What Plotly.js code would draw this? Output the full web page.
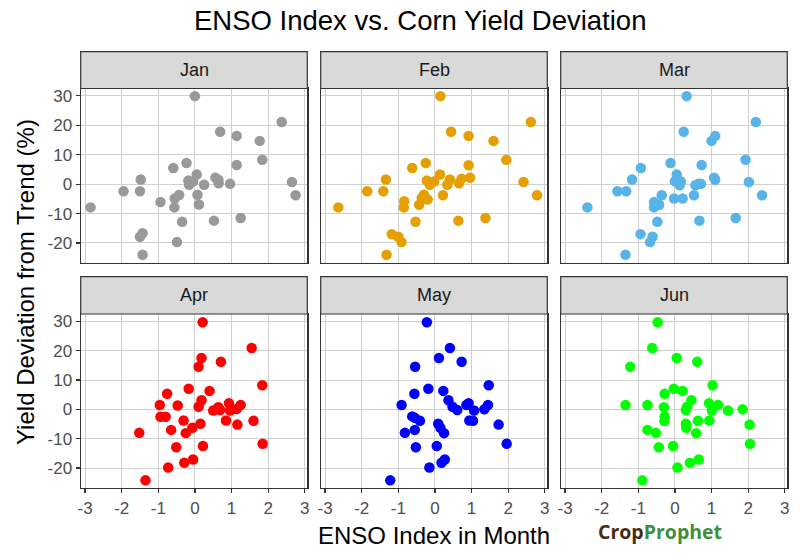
<!DOCTYPE html>
<html>
<head>
<meta charset="utf-8">
<script src="https://cdn.plot.ly/plotly-3.0.1.min.js"></script>
<style>html,body{margin:0;padding:0;background:#fff;}#chart{width:800px;height:560px;}</style>
</head>
<body>
<div id="chart"></div>
<script>
// ---- data ----
const months = ["Jan", "Feb", "Mar", "Apr", "May", "Jun"];
const monthColors = ["#999999", "#E69F00", "#56B4E9", "#FF0000", "#0000FF", "#00FF00"];

const janX = [0.00, 2.37, 0.69, 1.14, 1.77, 1.84, 1.14, -0.59, -0.23, 0.05, -0.18, -0.16, -0.05, 0.25, 0.56, 0.64, 0.65, 0.96, 2.65, 2.75, -1.48, -1.95, -1.50, -2.85, -0.94, -0.56, -0.55, -0.43, 0.07, 0.11, -0.35, 0.52, 1.25, -1.43, -1.50, -0.49, -1.43];
const janY = [29.9, 21.1, 17.8, 16.4, 14.7, 8.3, 6.5, 5.5, 7.2, 3.3, 1.2, -0.2, 0.9, -0.2, 2.2, 1.5, 0.3, 0.1, 0.7, -3.8, 1.6, -2.4, -2.4, -7.9, -6.1, -7.9, -4.9, -3.7, -3.6, -6.9, -12.8, -12.4, -11.5, -16.7, -17.9, -19.7, -24.0];

const febX = [0.15, 2.62, 0.44, 0.92, 1.60, 1.95, 0.92, -0.62, -0.25, 0.14, -1.34, -1.85, -1.41, -2.64, -0.84, -0.85, -0.30, -0.36, -0.20, -0.43, 0.22, -0.22, -0.14, -0.02, 0.34, 0.41, 0.66, 0.73, 0.96, 2.42, 2.79, -0.53, 0.64, 1.38, -1.18, -1.00, -0.91, -1.32];
const febY = [29.9, 21.1, 17.8, 16.4, 14.7, 8.3, 6.4, 5.5, 7.2, 3.3, 1.6, -2.4, -2.4, -7.9, -5.8, -7.9, -3.6, -4.7, -5.2, -7.0, -3.8, 1.2, -0.2, 0.9, -0.2, 1.6, 0.3, 1.8, 2.2, 0.7, -3.8, -12.8, -12.4, -11.5, -17.0, -17.9, -19.7, -24.0];

const marX = [0.32, 2.21, 0.24, 1.10, 1.00, 1.93, 0.73, -0.93, -0.12, 0.05, -1.17, -1.57, -1.33, -2.39, -0.57, -0.57, -0.43, -0.36, -0.02, 0.21, 0.52, 0.05, 0.16, 0.13, 0.56, 0.64, 0.71, 1.07, 1.10, 2.02, 2.38, -0.48, 0.67, 1.66, -0.61, -0.68, -0.94, -1.35, 0.00];
const marY = [29.9, 21.1, 17.8, 16.4, 14.7, 8.3, 6.5, 5.5, 7.2, 3.3, 1.6, -2.4, -2.4, -7.9, -6.1, -7.9, -7.0, -3.8, -4.9, -4.9, -3.8, 1.2, 0.9, -0.4, -0.4, 0.1, 0.1, 2.2, 1.5, 0.7, -3.8, -12.8, -12.4, -11.5, -17.9, -19.7, -17.0, -24.0, 1.0];

const aprX = [0.21, 1.55, 0.18, 0.10, 0.71, 1.84, 0.40, -0.76, -0.17, 0.18, -0.96, -0.47, 0.10, 0.50, 0.64, 0.69, 0.93, 0.96, 1.14, 1.25, -0.94, -0.80, -0.31, 0.85, 1.60, 1.16, 0.15, -0.07, -0.25, -0.65, -1.52, -0.51, 0.22, 1.85, -0.05, -0.29, -0.73, -1.35];
const aprY = [29.7, 20.9, 17.5, 14.5, 16.2, 8.2, 6.3, 5.3, 7.0, 3.1, 1.5, 1.3, 0.9, -0.4, 0.7, -0.2, 2.1, -0.4, 0.1, 1.5, -2.5, -2.5, -3.8, -3.8, -3.9, -5.2, -4.9, -6.3, -8.1, -7.0, -8.0, -12.9, -12.5, -11.7, -17.1, -18.2, -19.8, -24.2];

const mayX = [-0.22, 0.41, 0.11, 0.73, -0.54, 1.47, 0.23, -0.56, -0.18, 0.37, -0.91, 0.48, 0.61, 0.86, 0.92, 1.07, 1.35, 1.45, -0.62, -0.55, -0.41, 0.94, 1.04, 1.74, 0.09, 0.15, 0.25, -0.55, -0.82, -0.52, 0.05, 1.96, 0.27, 0.18, -0.15, -1.22];
const mayY = [29.7, 20.9, 17.5, 16.2, 14.5, 8.2, 6.3, 5.3, 7.0, 3.1, 1.5, 0.9, -0.2, 1.5, 2.1, -0.4, 0.0, 1.5, -2.4, -2.9, -3.9, -3.8, -3.9, -5.2, -4.9, -6.3, -8.1, -7.0, -8.0, -12.9, -12.5, -11.7, -17.1, -18.2, -19.8, -24.2];

const junX = [-0.47, -0.62, 0.05, 0.61, -1.22, 1.03, 0.21, -0.28, -0.03, 0.45, -1.35, -0.75, -0.30, 0.33, 0.30, 0.93, 1.18, 1.01, 1.45, 1.85, -0.28, -0.29, 0.63, 0.94, 2.04, 0.30, 0.31, 0.58, -0.75, -0.52, -0.44, -0.05, 2.05, 0.65, 0.41, 0.07, -0.89];
const junY = [29.7, 20.9, 17.5, 16.2, 14.5, 8.2, 6.3, 5.3, 7.0, 3.1, 1.5, 1.5, 0.7, 0.9, -0.2, 2.1, 1.5, -0.4, -0.4, 0.0, -2.4, -4.0, -3.9, -3.8, -5.2, -4.9, -6.3, -8.1, -7.0, -8.0, -12.9, -12.5, -11.7, -17.1, -18.2, -19.8, -24.2];

const xTicks = [-3, -2, -1, 0, 1, 2, 3];
const yTicks = [-20, -10, 0, 10, 20, 30];

const titleText = "ENSO Index vs. Corn Yield Deviation";
const xTitleText = "ENSO Index in Month";
const yTitleText = "Yield Deviation from Trend (%)";

// ---- build ----
const seriesX = [janX, febX, marX, aprX, mayX, junX];
const seriesY = [janY, febY, marY, aprY, mayY, junY];

const W = 800, H = 560;
const colPx = [[80.7, 307.3], [320.7, 547.3], [560.7, 787.3]];
const rowPx = [[88.5, 263], [314, 488]];          // panel top/bottom (px from top)
const stripPx = [[51.7, 88.5], [276.7, 314]];     // strip top/bottom

const FONT = "Liberation Sans, Arial, sans-serif";
const xRange = [-3.12, 3.07];
const yRange = [-26.8, 32.5];

const traces = [];
const layout = {
  width: W, height: H,
  margin: {l: 0, r: 0, t: 0, b: 0},
  paper_bgcolor: "#ffffff",
  plot_bgcolor: "#ffffff",
  showlegend: false,
  font: {family: FONT, color: "#4d4d4d"},
  shapes: [],
  annotations: []
};

months.forEach((m, i) => {
  const r = Math.floor(i / 3), c = i % 3;
  const n = i + 1;
  const xa = n === 1 ? "x" : "x" + n;
  const ya = n === 1 ? "y" : "y" + n;
  traces.push({
    type: "scatter", mode: "markers",
    x: seriesX[i], y: seriesY[i],
    xaxis: xa, yaxis: ya,
    marker: {color: monthColors[i], size: 10.5, line: {width: 0}},
    hoverinfo: "x+y"
  });
  const xKey = n === 1 ? "xaxis" : "xaxis" + n;
  const yKey = n === 1 ? "yaxis" : "yaxis" + n;
  layout[xKey] = {
    domain: [colPx[c][0] / W, colPx[c][1] / W],
    anchor: ya,
    range: xRange,
    tickmode: "array", tickvals: xTicks, ticktext: xTicks.map(String),
    showgrid: true, gridcolor: "#d0d0d0", gridwidth: 1,
    zeroline: false,
    showline: true, linecolor: "#333333", linewidth: 1.2, mirror: true,
    ticks: r === 1 ? "outside" : "", ticklen: 4, tickwidth: 1.2, tickcolor: "#333333",
    showticklabels: r === 1,
    tickfont: {family: FONT, size: 17, color: "#4d4d4d"}
  };
  layout[yKey] = {
    domain: [1 - rowPx[r][1] / H, 1 - rowPx[r][0] / H],
    anchor: xa,
    range: yRange,
    tickmode: "array", tickvals: yTicks, ticktext: yTicks.map(String),
    showgrid: true, gridcolor: "#d0d0d0", gridwidth: 1,
    zeroline: false,
    showline: true, linecolor: "#333333", linewidth: 1.2, mirror: true,
    ticks: c === 0 ? "outside" : "", ticklen: 4, tickwidth: 1.2, tickcolor: "#333333",
    showticklabels: c === 0,
    tickfont: {family: FONT, size: 17, color: "#4d4d4d"}
  };
  // strip
  layout.shapes.push({
    type: "rect", xref: "paper", yref: "paper",
    x0: colPx[c][0] / W, x1: colPx[c][1] / W,
    y0: 1 - stripPx[r][1] / H, y1: 1 - stripPx[r][0] / H,
    fillcolor: "#d9d9d9", line: {color: "#333333", width: 1.2}, layer: "above"
  });
  layout.annotations.push({
    xref: "paper", yref: "paper",
    x: (colPx[c][0] + colPx[c][1]) / 2 / W,
    y: 1 - (stripPx[r][0] + stripPx[r][1]) / 2 / H,
    xanchor: "center", yanchor: "middle", showarrow: false,
    text: m, font: {family: FONT, size: 18, color: "#1a1a1a"}
  });
});

layout.annotations.push({
  xref: "paper", yref: "paper", x: 420 / W, y: 1 - 21 / H,
  xanchor: "center", yanchor: "middle", showarrow: false,
  text: titleText, font: {family: FONT, size: 27.5, color: "#000000"}
});
layout.annotations.push({
  xref: "paper", yref: "paper", x: 434 / W, y: 1 - 535 / H,
  xanchor: "center", yanchor: "middle", showarrow: false,
  text: xTitleText, font: {family: FONT, size: 24, color: "#000000"}
});
layout.annotations.push({
  xref: "paper", yref: "paper", x: 25 / W, y: 1 - 282 / H,
  xanchor: "center", yanchor: "middle", showarrow: false, textangle: -90,
  text: yTitleText, font: {family: FONT, size: 24, color: "#000000"}
});
layout.annotations.push({
  xref: "paper", yref: "paper", x: 660 / W, y: 1 - 531 / H,
  xanchor: "center", yanchor: "middle", showarrow: false,
  text: "<b><span style='color:#4a2c12'>Crop</span><span style='color:#3f8f36'>Prophet</span></b>",
  font: {family: "Open Sans, Liberation Sans, sans-serif", size: 19.5}
});

Plotly.newPlot("chart", traces, layout, {displayModeBar: false, staticPlot: true});
</script>
</body>
</html>
